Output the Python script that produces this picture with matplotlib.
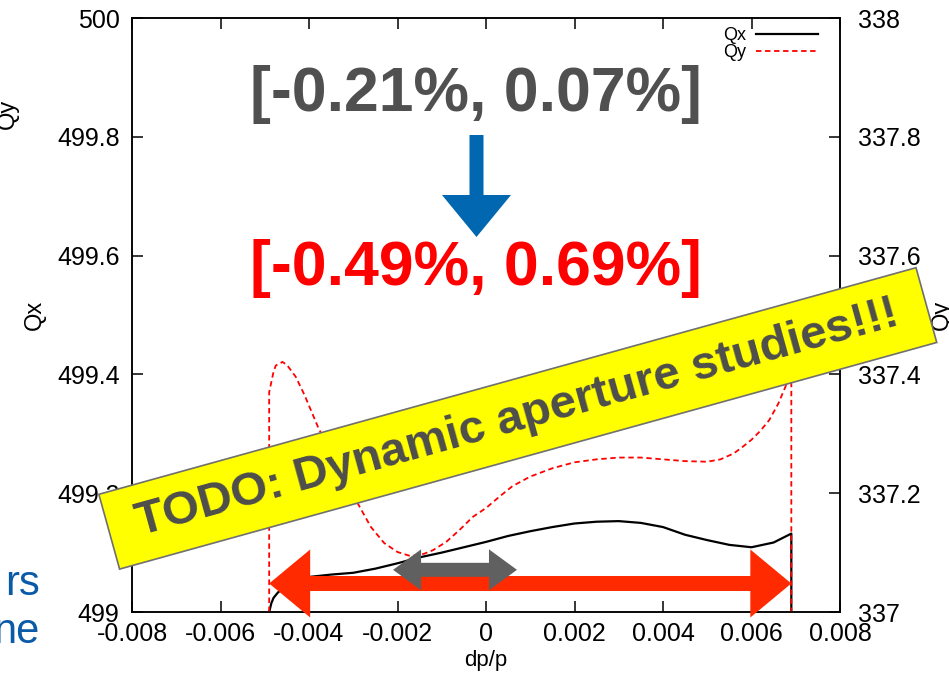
import matplotlib
matplotlib.use("Agg")
import matplotlib.pyplot as plt
import matplotlib.transforms as mtransforms
from matplotlib.patches import Polygon, Rectangle, FancyArrow
from matplotlib.ticker import FuncFormatter, MultipleLocator

plt.rcParams['font.family'] = ['Liberation Sans', 'DejaVu Sans']
plt.rcParams['axes.unicode_minus'] = False

# momentum acceptance before / after the optics change
old_range = (-0.0021, 0.0007)
new_range = (-0.0049, 0.0069)

# horizontal tune vs dp/p
qx_dp = [-0.0049, -0.00485, -0.0048, -0.0047, -0.0045, -0.0043, -0.0040, -0.0035,
         -0.0030, -0.0025, -0.0020, -0.0015, -0.0010, -0.0005, 0.0, 0.0005,
         0.0010, 0.0015, 0.0020, 0.0025, 0.0030, 0.0035, 0.0040, 0.0045,
         0.0050, 0.0055, 0.0060, 0.0065, 0.0069, 0.0069]
qx = [499.0, 499.015, 499.024, 499.033, 499.045, 499.053, 499.059, 499.063,
      499.066, 499.073, 499.082, 499.092, 499.100, 499.109, 499.118, 499.128,
      499.136, 499.143, 499.149, 499.152, 499.153, 499.150, 499.143, 499.130,
      499.121, 499.113, 499.109, 499.117, 499.132, 499.0]

# vertical tune vs dp/p
qy_dp = [-0.0049, -0.0049, -0.0048, -0.00475, -0.0046, -0.0045, -0.0043, -0.0041,
         -0.0038, -0.0035, -0.0032, -0.0029, -0.0026, -0.0023, -0.0020, -0.0017,
         -0.0014, -0.0012, -0.0009, -0.0006, -0.0003, 0.0, 0.0003, 0.0006,
         0.0010, 0.0015, 0.0020, 0.0025, 0.0030, 0.0035, 0.0040, 0.0045,
         0.0050, 0.0053, 0.0056, 0.0058, 0.0060, 0.0062, 0.0064, 0.0066,
         0.0068, 0.0069, 0.0069]
qy = [337.0, 337.37, 337.405, 337.415, 337.421, 337.416, 337.396, 337.365,
      337.312, 337.266, 337.222, 337.183, 337.143, 337.116, 337.101, 337.094,
      337.098, 337.104, 337.118, 337.138, 337.160, 337.175, 337.194, 337.212,
      337.228, 337.242, 337.252, 337.257, 337.260, 337.260, 337.257, 337.254,
      337.253, 337.257, 337.267, 337.278, 337.290, 337.305, 337.323, 337.350,
      337.385, 337.41, 337.0]

xticks = [-0.008, -0.006, -0.004, -0.002, 0.0, 0.002, 0.004, 0.006, 0.008]


def pct_label(r):
    return f"[{r[0] * 100:.2f}%, {r[1] * 100:.2f}%]"


def double_arrow(ax, x0, x1, y, shaft, head_w, head_l, color, zorder):
    """Double-headed block arrow between x0 and x1; sizes are in pixels."""
    fig = ax.figure
    pos = ax.get_position()
    w_px = pos.width * fig.get_figwidth() * fig.dpi
    h_px = pos.height * fig.get_figheight() * fig.dpi
    xl, yl = ax.get_xlim(), ax.get_ylim()
    sx = (xl[1] - xl[0]) / w_px
    sy = (yl[1] - yl[0]) / h_px
    hl, hw, sh = head_l * sx, head_w / 2 * sy, shaft / 2 * sy
    verts = [(x0, y), (x0 + hl, y + hw), (x0 + hl, y + sh), (x1 - hl, y + sh),
             (x1 - hl, y + hw), (x1, y), (x1 - hl, y - hw), (x1 - hl, y - sh),
             (x0 + hl, y - sh), (x0 + hl, y - hw)]
    return Polygon(verts, closed=True, facecolor=color, edgecolor='none',
                   transform=ax.transData, clip_on=False, zorder=zorder)


fig = plt.figure(figsize=(9.49, 6.76), dpi=100)
ax = fig.add_axes([132 / 949, 64 / 676, 708 / 949, 594 / 676])
ax2 = ax.twinx()

lx, = ax.plot(qx_dp, qx, color='black', lw=1.6, label='Qx')
ly, = ax2.plot(qy_dp, qy, color='red', lw=1.3, ls=(0, (3, 2)), label='Qy')

ax.set_xlim(-0.008, 0.008)
ax.set_ylim(499, 500)
ax2.set_ylim(337, 338)
ax.set_xticks(xticks)
ax.xaxis.set_major_formatter(FuncFormatter(lambda v, p: '0' if abs(v) < 1e-12 else f'{v:g}'))
for a in (ax, ax2):
    a.yaxis.set_major_locator(MultipleLocator(0.2))
    a.yaxis.set_major_formatter(FuncFormatter(lambda v, p: f'{v:g}'))
    for s in a.spines.values():
        s.set_linewidth(1.1)

ax.tick_params(axis='x', direction='in', length=8, width=1.1, top=True, labelsize=18, pad=7)
ax.tick_params(axis='y', direction='in', length=8, width=1.1, right=False, labelsize=18, pad=9)
ax2.tick_params(axis='y', direction='in', length=8, width=1.1, labelsize=18, pad=13)

ax.set_xlabel('dp/p', fontsize=16, labelpad=3)
ax.set_ylabel('Qx', fontsize=17, labelpad=8)
ax2.set_ylabel('Qy', fontsize=17, labelpad=7)

leg = ax2.legend(handles=[lx, ly], loc='upper right', bbox_to_anchor=(1 - 15 / 708, 1 - 2 / 594),
                 markerfirst=False, frameon=False, fontsize=13, handlelength=3.4,
                 handletextpad=0.55, labelspacing=0.0, borderaxespad=0.0)

# acceptance arrows, drawn above both curves
ax2.add_patch(double_arrow(ax, new_range[0], new_range[1], 499.048, 15, 68, 41, '#ff2a00', 5))
ax2.add_patch(double_arrow(ax, old_range[0], old_range[1], 499.071, 14, 41, 28, '#606060', 6))

# headline numbers with the arrow between them
fig.text(475.5 / 949, 1 - 94 / 676, pct_label(old_range), fontsize=45, fontweight='bold',
         color='#505050', ha='center', va='center')
fig.text(475.5 / 949, 1 - 268 / 676, pct_label(new_range), fontsize=45, fontweight='bold',
         color='red', ha='center', va='center')
fig.add_artist(FancyArrow(4.765, 5.41, 0, -1.02, width=0.14, head_width=0.69,
                          head_length=0.42, length_includes_head=True, lw=0,
                          color='#0067b0', transform=fig.dpi_scale_trans, zorder=8))

# tilted yellow banner
cx, cy, bw, bh, ang = 5.178, (676 - 418.4) / 100, 8.48, 0.776, 15.5
rot = mtransforms.Affine2D().rotate_deg_around(cx, cy, ang) + fig.dpi_scale_trans
fig.add_artist(Rectangle((cx - bw / 2, cy - bh / 2), bw, bh, facecolor='#ffff00',
                         edgecolor='#707070', lw=1.2, transform=rot, zorder=10))
fig.text(cx / 9.49, cy / 6.76, 'TODO: Dynamic aperture studies!!!', fontsize=34,
         fontweight='bold', color='#4d4d4d', rotation=ang, rotation_mode='anchor',
         ha='center', va='center', zorder=11)

# bits of the surrounding slide
fig.text(8 / 949, 1 - 114 / 676, 'Qy', fontsize=17, rotation=90, ha='center', va='center')
fig.text(40 / 949, 1 - 595 / 676, 'rs', fontsize=30, color='#0a5aa8', ha='right', va='baseline')
fig.text(40 / 949, 1 - 643 / 676, 'ne', fontsize=30, color='#0a5aa8', ha='right', va='baseline')

fig.savefig('out.png', dpi=100)
